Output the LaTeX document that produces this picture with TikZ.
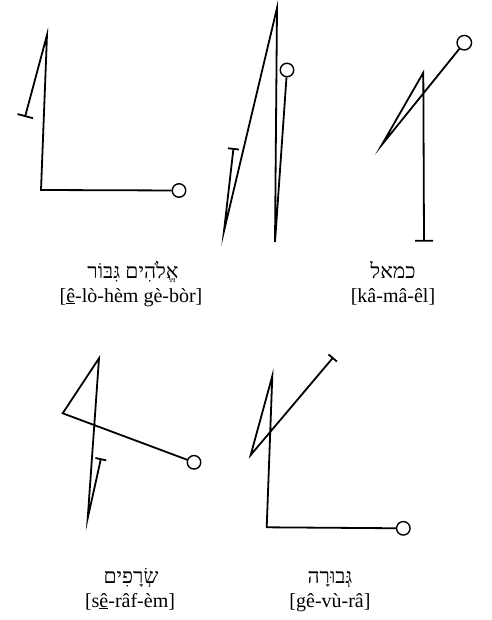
\documentclass[tikz,border=0pt]{standalone}
\usepackage{fontspec}
\setmainfont{Liberation Serif}
\newfontfamily\hebfont[Script=Hebrew]{Liberation Serif}
\TeXXeTstate=1
\usetikzlibrary{arrows.meta}
\tikzset{
  stroke/.style={line width=1.8pt, line join=miter, miter limit=30},
  ring/.style={circle, draw, line width=1.4pt, fill=white, minimum size=13.5pt, inner sep=0pt},
  heb/.style={anchor=base, inner sep=0pt, font=\hebfont\fontsize{21}{23}\selectfont},
  translit/.style={anchor=base, inner sep=0pt, font=\fontsize{20}{22}\selectfont},
}
\begin{document}
\begin{tikzpicture}[x=1pt, y=-1pt]
\useasboundingbox (0,0) rectangle (491,620);
% Figure 1
\coordinate (A1) at (47,35);
\coordinate (T1) at (25,117);
\coordinate (C1) at (41,190);
\node[ring] (O1) at (179,190.5) {};
\draw[stroke, {Bar[width=16pt]}-] (T1) -- (A1) -- (C1) -- (O1);
% Figure 2
\coordinate (A2) at (277,8);
\coordinate (L2) at (224,231);
\coordinate (T2) at (233.5,148);
\coordinate (B2) at (275,242);
\node[ring] (O2) at (287,70) {};
\draw[stroke, {Bar[width=11pt]}-] (T2) -- (L2) -- (A2) -- (B2) -- (O2);
% Figure 3
\node[ring, minimum size=14.5pt] (O3) at (464.3,42.7) {};
\coordinate (L3) at (381.7,145);
\coordinate (A3) at (423.3,72.7);
\coordinate (B3) at (424,241.7);
\draw[stroke, -{Bar[width=18pt]}] (O3) -- (L3) -- (A3) -- (B3);
% Figure 4
\coordinate (A4) at (99,358.3);
\coordinate (L4) at (62.7,413.3);
\node[ring] (O4) at (194,462.3) {};
\coordinate (B4) at (87.7,518.3);
\coordinate (T4) at (101,458.3);
\draw[stroke, -{Bar[width=11pt]}] (O4) -- (L4) -- (A4) -- (B4) -- (T4);
% Figure 5
\coordinate (T5) at (333.3,357.3);
\coordinate (L5) at (250.7,455);
\coordinate (A5) at (272.3,376);
\coordinate (C5) at (266.7,527.3);
\node[ring] (O5) at (403.3,528.3) {};
\draw[stroke, {Bar[width=11pt]}-] (T5) -- (L5) -- (A5) -- (C5) -- (O5);
% Labels
\node[heb] (h1) at (133,278) {\beginR אֱלֹהִים גִּבּוֹר\endR};
\node[translit] (t1) at (131,302) {[\underline{ê}-lò-hèm gè-bòr]};
\node[heb] (h3) at (393,278) {\beginR כמאל\endR};
\node[translit] (t3) at (393,302) {[kâ-mâ-êl]};
\node[heb] (h4) at (131,583) {\beginR שְׂרָפִים\endR};
\node[translit] (t4) at (130,607) {[s\underline{ê}-râf-èm]};
\node[heb] (h5) at (330,583) {\beginR גְּבוּרָה\endR};
\node[translit] (t5) at (330,607) {[gê-vù-râ]};
\end{tikzpicture}
\end{document}
